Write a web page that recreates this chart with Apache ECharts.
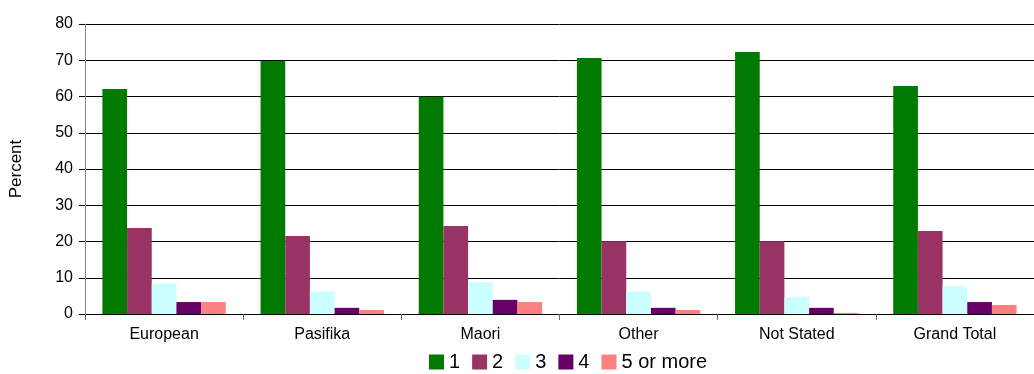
<!DOCTYPE html>
<html>
<head>
<meta charset="utf-8">
<script src="https://cdn.jsdelivr.net/npm/echarts@6/dist/echarts.min.js"></script>
<style>
  html, body { margin: 0; padding: 0; background: #fff; }
  #main { width: 1034px; height: 374px; }
</style>
</head>
<body>
<div id="main"></div>
<script>
// groups along the x axis
var categories = ['European', 'Pasifika', 'Maori', 'Other', 'Not Stated', 'Grand Total'];
var seriesNames = ['1', '2', '3', '4', '5 or more'];
var colors = ['#007a00', '#993366', '#ccffff', '#660066', '#ff8080'];

// percent values
var one = [62.1, 69.8, 59.9, 70.6, 72.3, 62.9];
var two = [23.7, 21.5, 24.3, 20.1, 20.1, 22.9];
var three = [8.4, 6.2, 8.8, 6.2, 4.7, 7.7];
var four = [3.3, 1.7, 3.9, 1.7, 1.7, 3.3];
var fiveOrMore = [3.3, 1.1, 3.3, 1.1, 0.3, 2.5];
var values = [one, two, three, four, fiveOrMore];

var chart = echarts.init(document.getElementById('main'));
var font = 'Liberation Sans, Arial, sans-serif';

chart.setOption({
  animation: false,
  textStyle: { fontFamily: font },
  legend: {
    data: seriesNames,
    bottom: -3,
    left: 424,
    itemWidth: 15,
    itemHeight: 15,
    itemGap: 12,
    icon: 'rect',
    textStyle: { fontSize: 20, color: '#000', fontFamily: font }
  },
  grid: { left: 85, top: 24, width: 960, height: 290 },
  xAxis: {
    type: 'category',
    data: categories,
    axisLine: { lineStyle: { color: '#000', width: 1 } },
    axisTick: { show: true, length: 6, alignWithLabel: false, lineStyle: { color: '#666' } },
    axisLabel: { fontSize: 16, color: '#000', margin: 13 }
  },
  yAxis: {
    type: 'value',
    min: 0,
    max: 80,
    interval: 10,
    name: 'Percent',
    nameLocation: 'middle',
    nameGap: 60,
    nameRotate: 90,
    nameTextStyle: { fontSize: 17, color: '#000' },
    axisLine: { show: true, lineStyle: { color: '#888' } },
    axisTick: { show: true, length: 6, lineStyle: { color: '#000' } },
    axisLabel: { fontSize: 16, color: '#000', margin: 12 },
    splitLine: { lineStyle: { color: '#000', width: 1 } }
  },
  series: seriesNames.map(function (name, i) {
    return {
      name: name,
      type: 'bar',
      data: values[i],
      barGap: '0%',
      barCategoryGap: '22%',
      itemStyle: { color: colors[i] }
    };
  })
});
</script>
</body>
</html>
